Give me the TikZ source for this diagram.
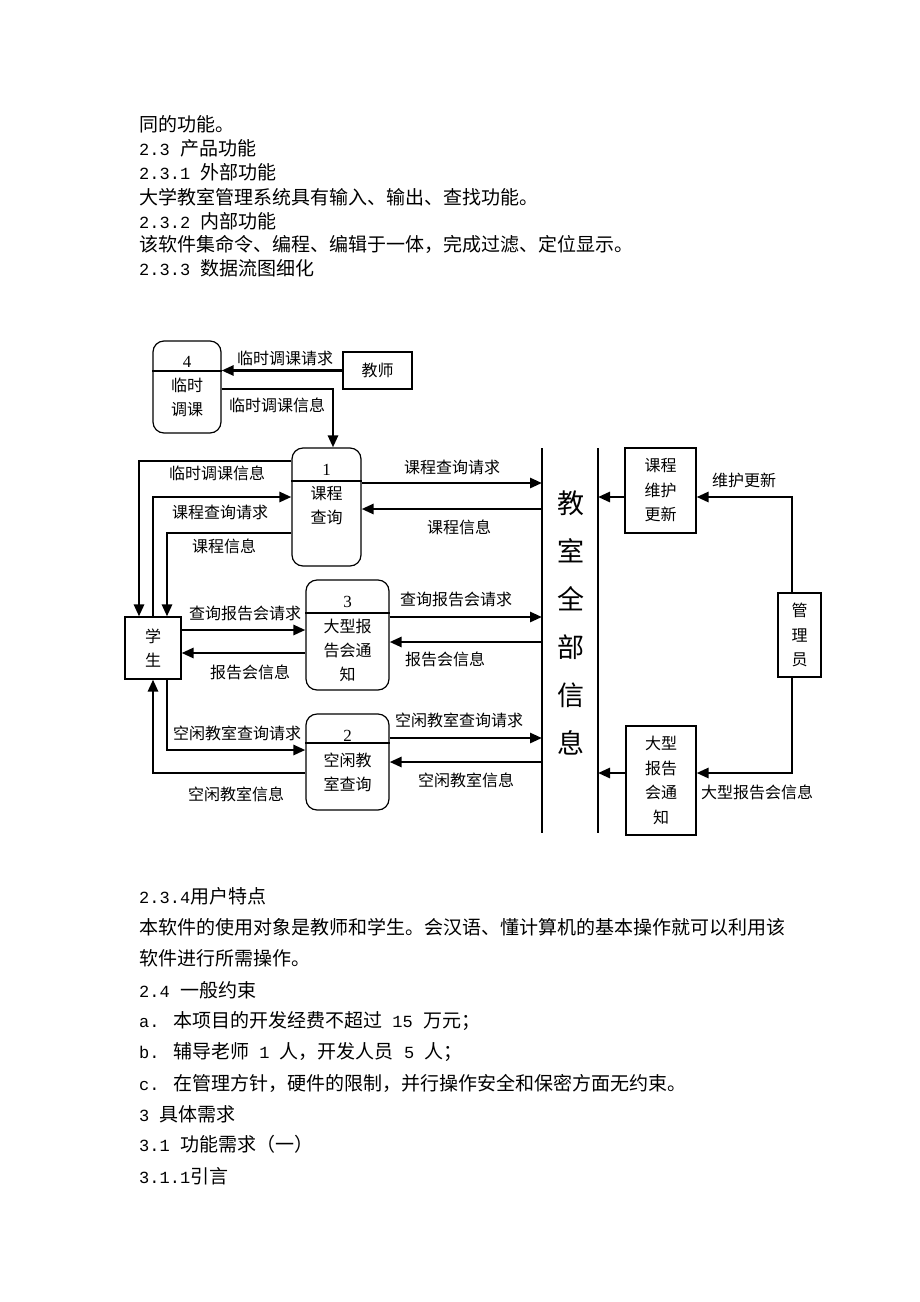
\documentclass[tikz,border=0pt]{standalone}
\usepackage{fontspec}
\setmainfont{Noto Sans CJK SC}
\newfontfamily\digitfont{Liberation Mono}
\newfontfamily\numfont{Liberation Serif}
\usetikzlibrary{arrows.meta}

% half-width digits in the running text
\newcommand{\numtxt}[1]{{\digitfont\fontsize{17}{17}\selectfont #1}}

\tikzset{
  proc/.style={draw, line width=1.2pt, rounded corners=11pt, inner sep=0pt},
  ext/.style={draw, line width=1.1pt, inner sep=0pt, align=center,
    font=\fontsize{16}{24.5}\selectfont},
  flow/.style={line width=2.7pt, -{Triangle[length=12pt,width=10pt]}},
  plain/.style={line width=2.7pt},
  lbl/.style={inner sep=0pt, align=center, font=\fontsize{16}{24}\selectfont},
  body/.style={anchor=west, inner sep=0pt, font=\fontsize{19}{19}\selectfont},
}

\begin{document}
\begin{tikzpicture}[x=1pt,y=-1pt]
    % Page size
    \fill[white] (0,0) rectangle (920,1302);
    \useasboundingbox (0,0) rectangle (920,1302);

    % Text above the diagram
    \node[body] (t1) at (139,124) {同的功能。};
    \node[body] (t2) at (139,148) {\numtxt{2.3 }产品功能};
    \node[body] (t3) at (139,172) {\numtxt{2.3.1 }外部功能};
    \node[body] (t4) at (139,197) {大学教室管理系统具有输入、输出、查找功能。};
    \node[body] (t5) at (139,221) {\numtxt{2.3.2 }内部功能};
    \node[body] (t6) at (139,244) {该软件集命令、编程、编辑于一体，完成过滤、定位显示。};
    \node[body] (t7) at (139,268) {\numtxt{2.3.3 }数据流图细化};

    % Processes with their number row
    \node[proc, minimum width=68pt, minimum height=92pt] (p4) at (187,387) {};
    \node[proc, minimum width=69pt, minimum height=118pt] (p1) at (326.5,507) {};
    \node[proc, minimum width=83pt, minimum height=110pt] (p3) at (347.5,635) {};
    \node[proc, minimum width=83pt, minimum height=96pt] (p2) at (347.5,762) {};
    \draw[line width=1.2pt] (p4.west |- 0,371) -- (p4.east |- 0,371);
    \draw[line width=1.2pt] (p1.west |- 0,481) -- (p1.east |- 0,481);
    \draw[line width=1.2pt] (p3.west |- 0,613) -- (p3.east |- 0,613);
    \draw[line width=1.2pt] (p2.west |- 0,743) -- (p2.east |- 0,743);
    \node[lbl] (p4n) at (187,362) {\numfont\fontsize{17}{17}\selectfont 4};
    \node[lbl] (p4t) at (187,397.5) {临时\\调课};
    \node[lbl] (p1n) at (326.5,470) {\numfont\fontsize{17}{17}\selectfont 1};
    \node[lbl] (p1t) at (326.5,505.5) {课程\\查询};
    \node[lbl] (p3n) at (347.5,602) {\numfont\fontsize{17}{17}\selectfont 3};
    \node[lbl] (p3t) at (347.5,650.5) {大型报\\告会通\\知};
    \node[lbl] (p2n) at (347.5,736) {\numfont\fontsize{17}{17}\selectfont 2};
    \node[lbl] (p2t) at (347.5,772) {空闲教\\室查询};

    % External entities
    \node[ext, minimum width=69pt, minimum height=37pt] (teacher) at (377.5,370.5) {教师};
    \node[ext, minimum width=56pt, minimum height=62pt] (student) at (153,648) {学\\生};
    \node[ext, minimum width=71pt, minimum height=85pt] (maint) at (660.5,490.5) {课程\\维护\\更新};
    \node[ext, minimum width=43pt, minimum height=84pt] (admin) at (799.5,635) {管\\理\\员};
    \node[ext, minimum width=70pt, minimum height=109pt] (notice) at (661,780.5) {大型\\报告\\会通\\知};

    % Data store between the two bars
    \coordinate (busA) at (542,448);
    \coordinate (busA2) at (542,833);
    \coordinate (busB) at (598,448);
    \coordinate (busB2) at (598,833);
    \draw[plain] (busA) -- (busA2);
    \draw[plain] (busB) -- (busB2);
    \node[inner sep=0pt, align=center, font=\fontsize{27}{48}\selectfont] (store) at (571,623)
        {教\\室\\全\\部\\信\\息};

    % Teacher and process 4
    \draw[flow] (teacher.west) -- (teacher.west -| p4.east);
    \draw[flow] (p4.east |- 0,389) -| ([xshift=6.5pt]p1.north);
    \node[lbl] (l1) at (285,358) {临时调课请求};
    \node[lbl] (l2) at (277,405) {临时调课信息};

    % Student and process 1
    \draw[flow] (p1.west |- 0,461) -| ([xshift=-14pt]student.north);
    \draw[flow] (student.north) |- (p1.west |- 0,497);
    \draw[flow] (p1.west |- 0,533) -| ([xshift=14pt]student.north);
    \node[lbl] (l3) at (217,473) {临时调课信息};
    \node[lbl] (l4) at (220,512) {课程查询请求};
    \node[lbl] (l5) at (224,546) {课程信息};

    % Student and process 3
    \draw[flow] (student.east |- 0,630) -- (p3.west |- 0,630);
    \draw[flow] (p3.west |- 0,653) -- (student.east |- 0,653);
    \node[lbl] (l6) at (245,613) {查询报告会请求};
    \node[lbl] (l7) at (250,672) {报告会信息};

    % Student and process 2
    \draw[flow] ([xshift=14pt]student.south) |- (p2.west |- 0,750);
    \draw[flow] (p2.west |- 0,773) -| (student.south);
    \node[lbl] (l8) at (237,733) {空闲教室查询请求};
    \node[lbl] (l9) at (236,794) {空闲教室信息};

    % Processes and the data store
    \draw[flow] (p1.east |- 0,483) -- (busA |- 0,483);
    \draw[flow] (busA |- 0,509) -- (p1.east |- 0,509);
    \draw[flow] (p3.east |- 0,617) -- (busA |- 0,617);
    \draw[flow] (busA |- 0,642) -- (p3.east |- 0,642);
    \draw[flow] (p2.east |- 0,738) -- (busA |- 0,738);
    \draw[flow] (busA |- 0,762) -- (p2.east |- 0,762);
    \node[lbl] (r1) at (452,467) {课程查询请求};
    \node[lbl] (r2) at (459,527) {课程信息};
    \node[lbl] (r3) at (456,599) {查询报告会请求};
    \node[lbl] (r4) at (445,659) {报告会信息};
    \node[lbl] (r5) at (459,720) {空闲教室查询请求};
    \node[lbl] (r6) at (466,780) {空闲教室信息};

    % Administrator side
    \draw[flow] (maint.west |- 0,497) -- (busB |- 0,497);
    \draw[flow] ([xshift=-7.5pt]admin.north) |- (maint.east |- 0,497);
    \draw[flow] ([xshift=-7.5pt]admin.south) |- (notice.east |- 0,773);
    \draw[flow] (notice.west |- 0,773) -- (busB |- 0,773);
    \node[lbl] (r7) at (744,480) {维护更新};
    \node[lbl] (r8) at (757,792) {大型报告会信息};

    % Text below the diagram
    \node[body] (b1) at (139,896) {\numtxt{2.3.4}用户特点};
    \node[body] (b2) at (139,927) {本软件的使用对象是教师和学生。会汉语、懂计算机的基本操作就可以利用该};
    \node[body] (b3) at (139,958) {软件进行所需操作。};
    \node[body] (b4) at (139,990) {\numtxt{2.4 }一般约束};
    \node[body] (b5) at (139,1021) {\numtxt{a. }本项目的开发经费不超过\numtxt{ 15 }万元；};
    \node[body] (b6) at (139,1052) {\numtxt{b. }辅导老师\numtxt{ 1 }人，开发人员\numtxt{ 5 }人；};
    \node[body] (b7) at (139,1083) {\numtxt{c. }在管理方针，硬件的限制，并行操作安全和保密方面无约束。};
    \node[body] (b8) at (139,1114) {\numtxt{3 }具体需求};
    \node[body] (b9) at (139,1144) {\numtxt{3.1 }功能需求（一）};
    \node[body] (b10) at (139,1176) {\numtxt{3.1.1}引言};
\end{tikzpicture}
\end{document}
